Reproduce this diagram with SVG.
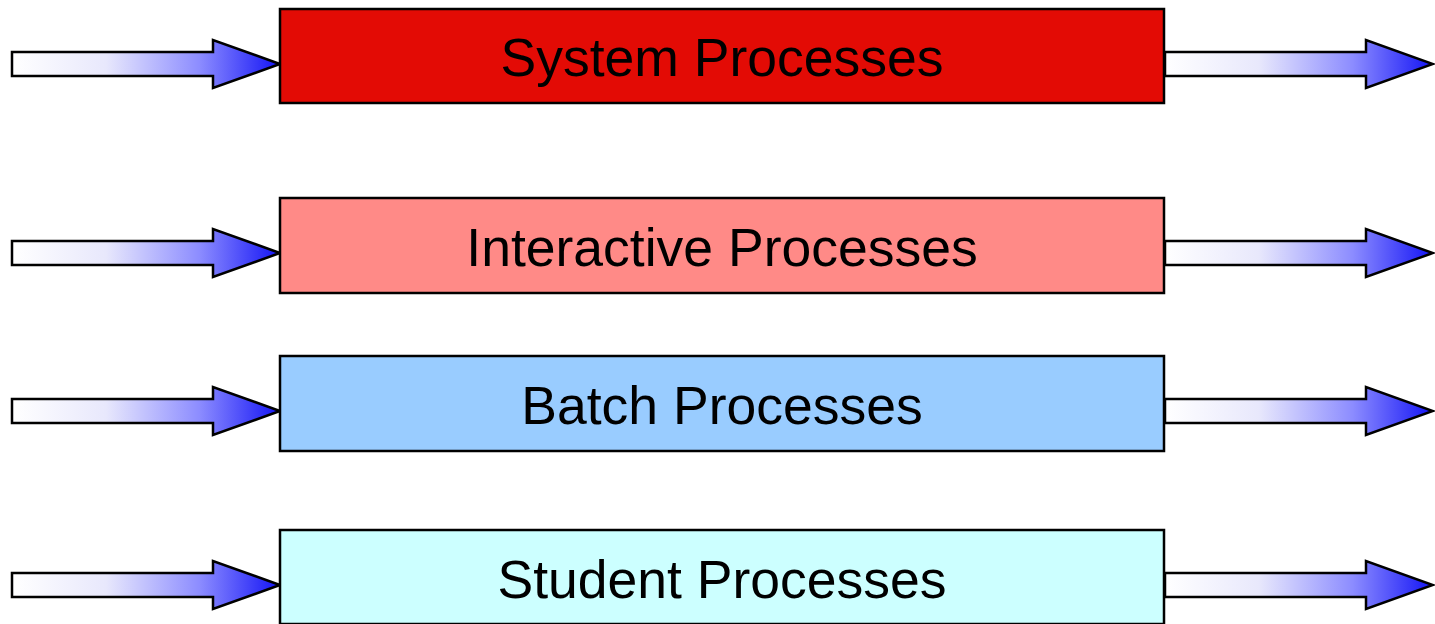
<svg xmlns="http://www.w3.org/2000/svg" width="1435" height="624" viewBox="0 0 1435 624">
<defs>
<linearGradient id="ag" x1="0" y1="0" x2="1" y2="0">
<stop offset="0" stop-color="#ffffff"/>
<stop offset="0.35" stop-color="#e8e8fc"/>
<stop offset="0.7" stop-color="#8c8cff"/>
<stop offset="1" stop-color="#1414f5"/>
</linearGradient>
<path id="arr" d="M0,-12 H201 V-24 L268,0 L201,24 V12 H0 Z"/>
</defs>
<style>
.a{fill:url(#ag);stroke:#000;stroke-width:2.5;stroke-linejoin:miter}
.b{stroke:#000;stroke-width:2.5}
.t{font-family:"Liberation Sans",Arial,sans-serif;font-size:53.5px;fill:#000;text-anchor:middle}
</style>
<rect width="1435" height="624" fill="#fff"/>
<g id="connectors">
<use href="#arr" class="a" x="12" y="64"/>
<use href="#arr" class="a" x="1165" y="64"/>
<use href="#arr" class="a" x="12" y="253"/>
<use href="#arr" class="a" x="1165" y="253"/>
<use href="#arr" class="a" x="12" y="411"/>
<use href="#arr" class="a" x="1165" y="411"/>
<use href="#arr" class="a" x="12" y="585"/>
<use href="#arr" class="a" x="1165" y="585"/>
</g>
<g id="system">
<rect class="b" x="280" y="9" width="884" height="94" fill="#e30b05"/>
<text class="t" x="722" y="76">System Processes</text>
</g>
<g id="interactive">
<rect class="b" x="280" y="198" width="884" height="95" fill="#ff8a87"/>
<text class="t" x="722" y="266">Interactive Processes</text>
</g>
<g id="batch">
<rect class="b" x="280" y="356" width="884" height="95" fill="#99ccff"/>
<text class="t" x="722" y="424">Batch Processes</text>
</g>
<g id="student">
<rect class="b" x="280" y="530" width="884" height="94" fill="#ccffff"/>
<text class="t" x="722" y="598">Student Processes</text>
</g>
</svg>
